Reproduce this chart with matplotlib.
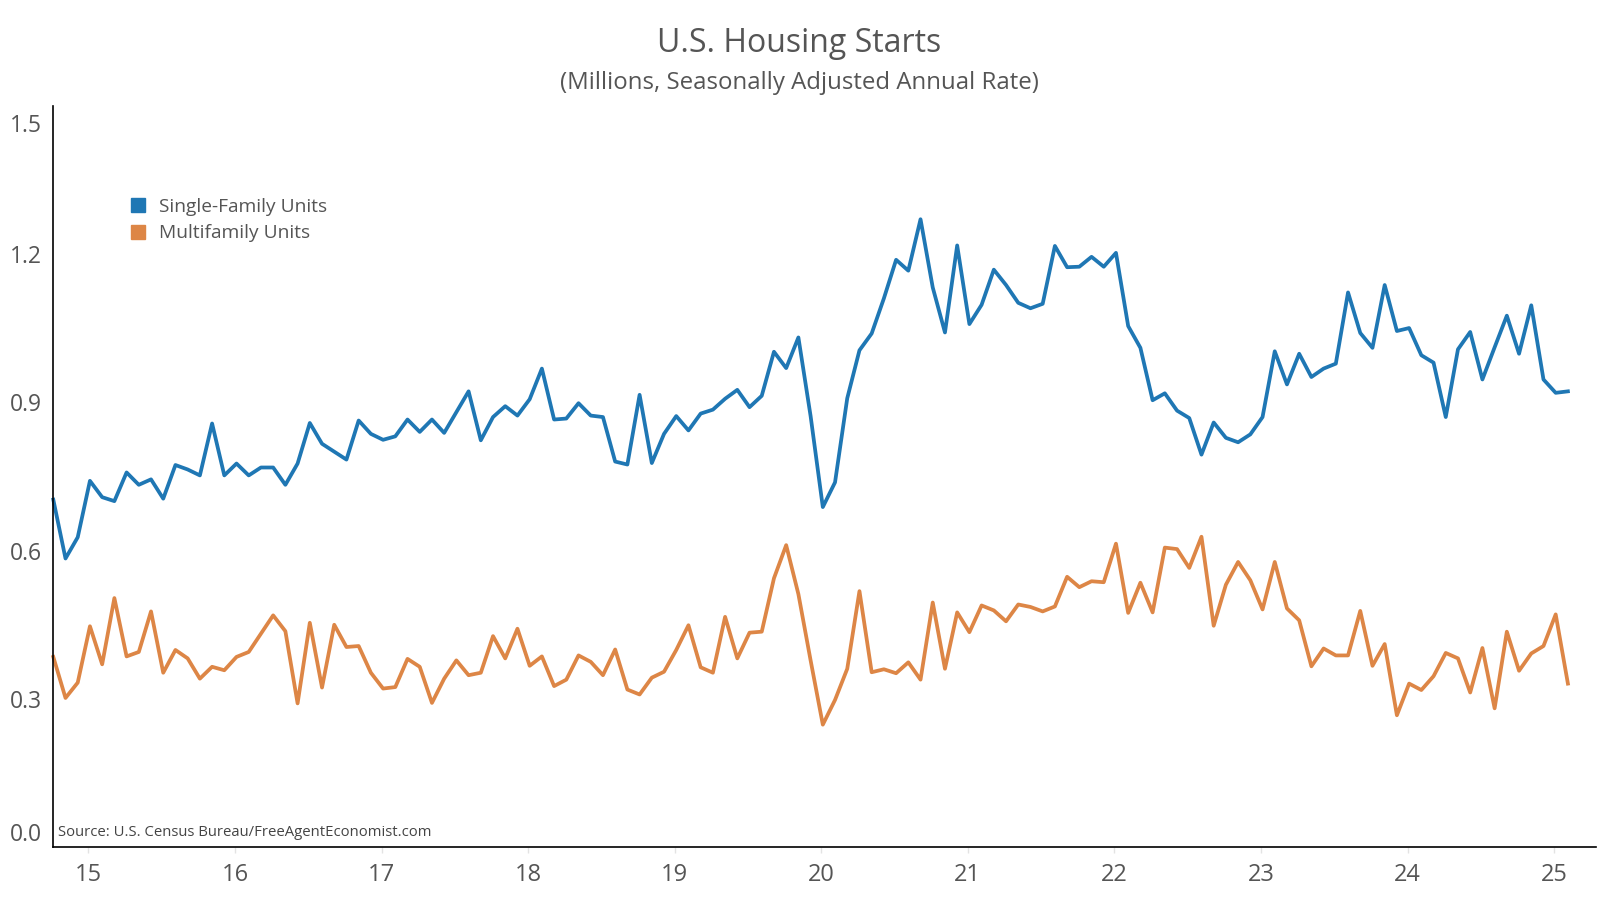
import matplotlib
matplotlib.use('Agg')
import matplotlib.pyplot as plt
from matplotlib.lines import Line2D
from matplotlib.transforms import ScaledTranslation
import numpy as np

plt.rcParams['font.family'] = ['Open Sans', 'DejaVu Sans']

# Monthly starts, millions SAAR (first point ~ late 2014 / early 2015)
single_family = [
    0.703, 0.584, 0.627, 0.741, 0.708, 0.700, 0.758, 0.733, 0.744, 0.705,
    0.773, 0.764, 0.752, 0.857, 0.752, 0.776, 0.752, 0.768, 0.768, 0.733,
    0.776, 0.858, 0.816, 0.800, 0.784, 0.863, 0.836, 0.824, 0.831, 0.865,
    0.840, 0.865, 0.838, 0.880, 0.922, 0.823, 0.870, 0.892, 0.873, 0.906,
    0.968, 0.865, 0.867, 0.898, 0.873, 0.870, 0.780, 0.774, 0.915, 0.777,
    0.836, 0.872, 0.843, 0.877, 0.885, 0.907, 0.925, 0.890, 0.913, 1.002,
    0.969, 1.031, 0.872, 0.688, 0.738, 0.908, 1.005, 1.039, 1.110, 1.188,
    1.166, 1.270, 1.132, 1.041, 1.217, 1.058, 1.097, 1.168, 1.137, 1.101,
    1.090, 1.099, 1.216, 1.173, 1.174, 1.194, 1.174, 1.202, 1.054, 1.010,
    0.904, 0.918, 0.883, 0.868, 0.794, 0.859, 0.828, 0.819, 0.835, 0.870,
    1.003, 0.936, 0.998, 0.951, 0.968, 0.978, 1.122, 1.040, 1.010, 1.137,
    1.044, 1.050, 0.995, 0.980, 0.870, 1.007, 1.042, 0.946, 1.011, 1.075,
    0.998, 1.096, 0.946, 0.919, 0.922,
]
multifamily = [
    0.385, 0.302, 0.333, 0.447, 0.370, 0.504, 0.386, 0.395, 0.477, 0.353,
    0.399, 0.382, 0.341, 0.365, 0.358, 0.385, 0.395, 0.432, 0.469, 0.437,
    0.291, 0.454, 0.323, 0.450, 0.405, 0.407, 0.353, 0.321, 0.324, 0.381,
    0.365, 0.292, 0.341, 0.378, 0.348, 0.353, 0.427, 0.382, 0.442, 0.367,
    0.386, 0.326, 0.339, 0.388, 0.375, 0.348, 0.400, 0.319, 0.309, 0.343,
    0.355, 0.399, 0.449, 0.364, 0.353, 0.466, 0.382, 0.434, 0.436, 0.544,
    0.611, 0.512, 0.378, 0.248, 0.298, 0.361, 0.518, 0.354, 0.360, 0.352,
    0.374, 0.339, 0.495, 0.361, 0.475, 0.435, 0.489, 0.479, 0.457, 0.491,
    0.486, 0.477, 0.487, 0.547, 0.526, 0.538, 0.536, 0.614, 0.474, 0.535,
    0.475, 0.606, 0.603, 0.565, 0.628, 0.448, 0.531, 0.577, 0.540, 0.481,
    0.577, 0.483, 0.459, 0.366, 0.402, 0.388, 0.388, 0.478, 0.367, 0.411,
    0.267, 0.331, 0.318, 0.346, 0.393, 0.382, 0.313, 0.403, 0.281, 0.436,
    0.357, 0.392, 0.407, 0.471, 0.331,
]
year_labels = ['15', '16', '17', '18', '19', '20', '21', '22', '23', '24', '25']
y_ticks = [0.0, 0.3, 0.6, 0.9, 1.2, 1.5]
series_names = ['Single-Family Units', 'Multifamily Units']

BLUE = '#1f77b4'
ORANGE = '#dd8646'
TXT = '#555555'

W, H = 1599, 899
fig = plt.figure(figsize=(W / 100, H / 100), dpi=100)
left, right, top, bottom = 53.3, 1596, 105.5, 847.3
ax = fig.add_axes([left / W, 1 - bottom / H, (right - left) / W, (bottom - top) / H])

months = np.arange(len(single_family))
ax.plot(months, single_family, color=BLUE, lw=2.7, solid_joinstyle='round', clip_on=False)
ax.plot(months, multifamily, color=ORANGE, lw=2.7, solid_joinstyle='round', clip_on=False)

ax.set_xlim(0, 126.3)
ax.set_ylim(0, 1.5)

for s in ['top', 'right']:
    ax.spines[s].set_visible(False)
for s in ['left', 'bottom']:
    ax.spines[s].set_color('black')
    ax.spines[s].set_linewidth(1.2)

first_jan = 2.87
ax.set_xticks([first_jan + 12 * k for k in range(len(year_labels))])
ax.set_xticklabels(year_labels)
ax.tick_params(axis='x', direction='out', length=4, width=1, color='#e3e3e3',
               pad=7, labelsize=17, labelcolor=TXT)

ax.set_yticks(y_ticks)
ax.set_yticklabels([f'{v:.1f}' for v in y_ticks])
ax.tick_params(axis='y', length=0, pad=8, labelsize=16.5, labelcolor=TXT)
ylabels = ax.get_yticklabels()
ylabels[0].set_transform(ylabels[0].get_transform() + ScaledTranslation(0, 0.15, fig.dpi_scale_trans))
ylabels[-1].set_transform(ylabels[-1].get_transform() + ScaledTranslation(0, -0.18, fig.dpi_scale_trans))

handles = [Line2D([], [], marker='s', ls='', ms=10.5, color=BLUE),
           Line2D([], [], marker='s', ls='', ms=10.5, color=ORANGE)]
ax.legend(handles, series_names, loc='upper left',
          bbox_to_anchor=(130 / W, 1 - 198 / H), bbox_transform=fig.transFigure,
          frameon=False, fontsize=13.75, labelcolor=TXT, handlelength=0.8,
          handletextpad=0.7, labelspacing=0.44, borderpad=0, borderaxespad=0)

fig.text(0.5, 1 - 44 / H, 'U.S. Housing Starts', ha='center', va='center',
         fontsize=23, color=TXT)
fig.text(0.5, 1 - 83 / H, '(Millions, Seasonally Adjusted Annual Rate)', ha='center',
         va='center', fontsize=17.25, color=TXT)
fig.text(57.5 / W, 1 - 832.7 / H, 'Source: U.S. Census Bureau/FreeAgentEconomist.com',
         ha='left', va='center', fontsize=10.75, color='#444444')

fig.savefig('out.png', dpi=100, facecolor='white')
